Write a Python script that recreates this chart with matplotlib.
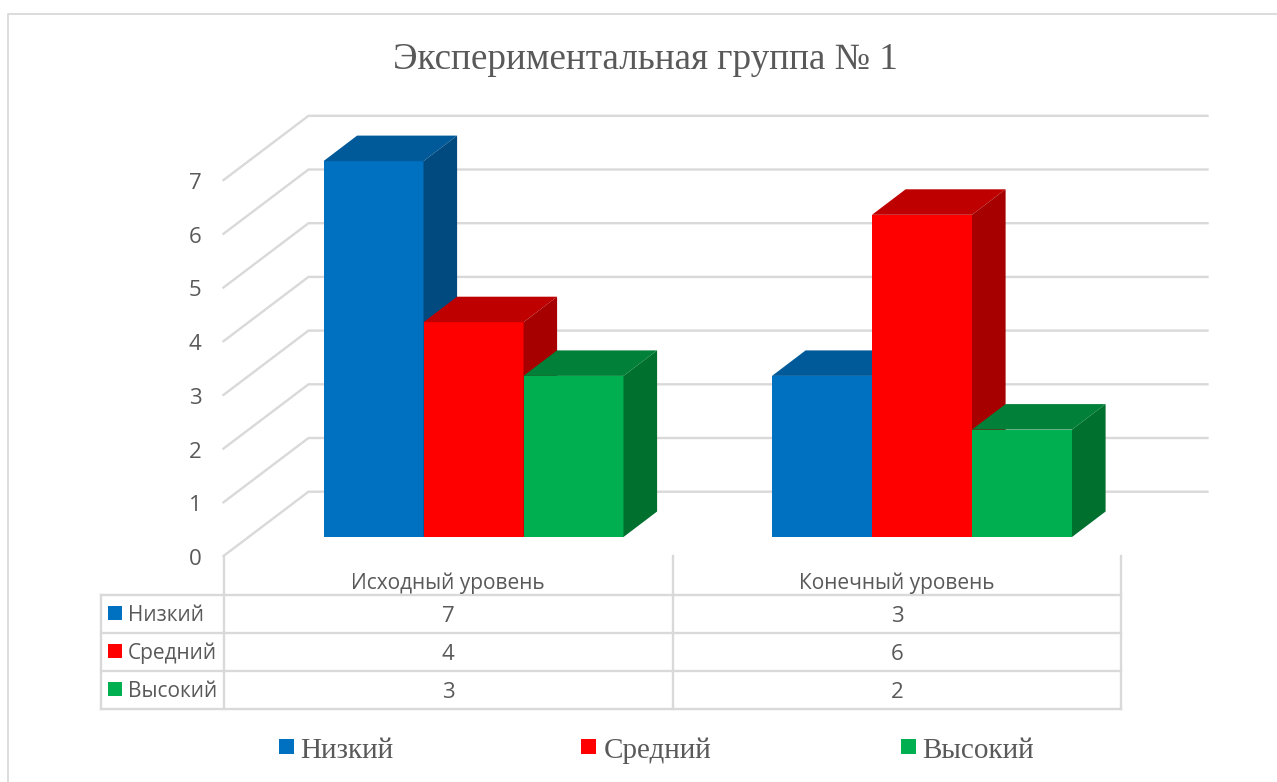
import matplotlib
matplotlib.use("Agg")
import matplotlib.pyplot as plt
from matplotlib.patches import Rectangle

W, H = 1277, 782

title = "Экспериментальная группа № 1"
categories = ["Исходный уровень", "Конечный уровень"]
series_names = ["Низкий", "Средний", "Высокий"]
low = [7, 3]
mid = [4, 6]
high = [3, 2]
y_ticks = [0, 1, 2, 3, 4, 5, 6, 7]

front_colors = ["#0070C0", "#FF0000", "#00B050"]
top_colors = ["#005A9A", "#BF0000", "#008038"]
side_colors = ["#004A80", "#A60000", "#00702F"]
GRID = "#D9D9D9"
TXT = "#595959"

PX_PER_CAT = 448.5
PX_PER_VAL = 53.7
X0_PX, Y0_PX = 474.0, 537.0

fig = plt.figure(figsize=(W / 100, H / 100), dpi=100, facecolor="white")
ax = fig.add_axes([0, 0, 1, 1])
ax.set_xlim(-X0_PX / PX_PER_CAT, (W - X0_PX) / PX_PER_CAT)
ax.set_ylim(-(H - Y0_PX) / PX_PER_VAL, Y0_PX / PX_PER_VAL)
ax.axis("off")

ov = fig.add_axes([0, 0, 1, 1], facecolor="none")
ov.set_xlim(0, W)
ov.set_ylim(H, 0)
ov.axis("off")

bar_w = 100 / PX_PER_CAT
bar_dx = 33.6 / PX_PER_CAT
bar_dy = 25.5 / PX_PER_VAL

# gridlines in value space
g_front_x = (223.5 - X0_PX) / PX_PER_CAT
g_back_x = (308.5 - X0_PX) / PX_PER_CAT
g_right_x = (1207.5 - X0_PX) / PX_PER_CAT
g_front_off = (556 - Y0_PX) / PX_PER_VAL
g_back_off = (537 - 491.7) / PX_PER_VAL
for v in y_ticks:
    ax.plot([g_front_x, g_back_x, g_right_x],
            [v - g_front_off, v + g_back_off, v + g_back_off],
            color=GRID, lw=1.7, zorder=1, solid_joinstyle="miter")
    ov.text(195, 556 + 3 - v * PX_PER_VAL + 0.5, str(v), ha="center", va="center",
            family="Open Sans", fontsize=16, color=TXT)

z = 2
all_vals = [low, mid, high]
for c in range(len(categories)):
    for s, vals in enumerate(all_vals):
        x1 = c + (s - 1.5) * bar_w - 0.5 / PX_PER_CAT
        x2 = x1 + bar_w
        v = vals[c]
        ax.bar(x1, v, width=bar_w, align="edge", color=front_colors[s], lw=0, zorder=z)
        ax.fill([x1, x2, x2 + bar_dx, x1 + bar_dx], [v, v, v + bar_dy, v + bar_dy],
                color=top_colors[s], lw=0, zorder=z + 0.1)
        ax.fill([x2, x2 + bar_dx, x2 + bar_dx, x2], [0, bar_dy, v + bar_dy, v],
                color=side_colors[s], lw=0, zorder=z + 0.2)
        z += 1

# outer frame (open on the right: the top rule runs off the image)
ov.plot([8, 8, 1277], [782, 14, 14], color=GRID, lw=1.3, clip_on=False)

# data table
tx = [100.5, 224, 673, 1121]
ty = [595, 633, 671, 709]
for y in ty:
    ov.plot([tx[0], tx[-1]], [y, y], color=GRID, lw=1.7, solid_capstyle="projecting")
ov.plot([tx[0], tx[0]], [ty[0], ty[-1]], color=GRID, lw=1.7)
for x in tx[1:]:
    ov.plot([x, x], [556, ty[-1]], color=GRID, lw=1.7)

centers = [(tx[1] + tx[2]) / 2 - 0.5, (tx[2] + tx[3]) / 2]
for c, name in enumerate(categories):
    ov.text(centers[c], 583, name, ha="center", va="center",
            family="Open Sans", fontsize=15, color=TXT)
    for r, vals in enumerate(all_vals):
        ov.text(centers[c], (ty[r] + ty[r + 1]) / 2 + 2, str(vals[c]), ha="center", va="center",
                family="Open Sans", fontsize=16, color=TXT)
for r, name in enumerate(series_names):
    yc = (ty[r] + ty[r + 1]) / 2 - 1
    ov.add_patch(Rectangle((108, yc - 7), 14, 14, color=front_colors[r], lw=0))
    ov.text(128, yc + 2.5, name, ha="left", va="center",
            family="Open Sans", fontsize=15, color=TXT)

# legend
leg_sq = [279, 581, 901]
leg_tx = [300.5, 603.5, 922.5]
for r, name in enumerate(series_names):
    ov.add_patch(Rectangle((leg_sq[r], 739), 15, 15, color=front_colors[r], lw=0))
    ov.text(leg_tx[r], 751, name, ha="left", va="center",
            family="Liberation Serif", fontsize=21, color=TXT)

ov.text(645.5, 60, title, ha="center", va="center",
        family="Liberation Serif", fontsize=26.7, color=TXT)

fig.savefig("out.png", dpi=100, facecolor="white")
